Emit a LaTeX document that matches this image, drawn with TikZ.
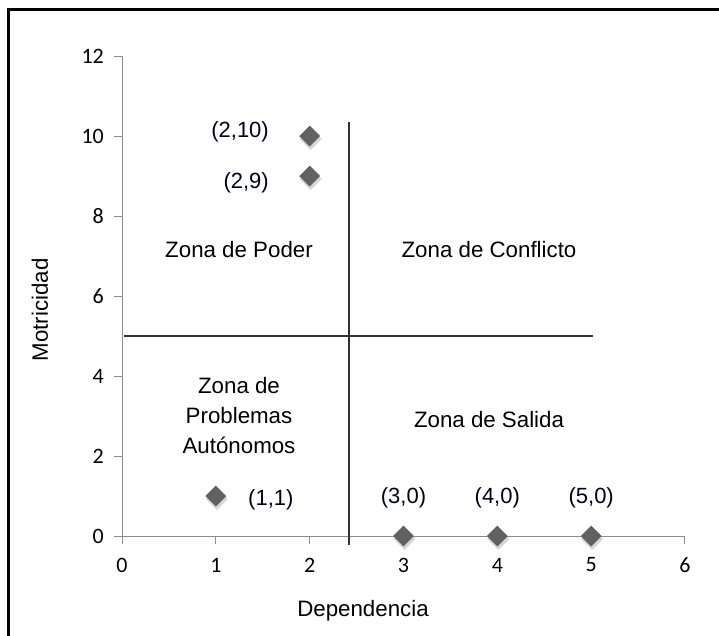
\documentclass[tikz,border=0pt]{standalone}
\usepackage{fontspec}
\setmainfont{Liberation Sans}
\newfontfamily\tickfont{Carlito}
\usetikzlibrary{shapes.geometric}
\begin{document}
\begin{tikzpicture}[x=1pt,y=-1pt,
  lbl/.style={font=\fontsize{22.3}{30}\selectfont, inner sep=0pt, text=black},
  ptlbl/.style={font=\fontsize{22}{25}\selectfont, inner sep=0pt, text=black!90!blue},
  ticklbl/.style={font=\tickfont\fontsize{22}{24}\selectfont, inner sep=0pt, text=black},
  axisline/.style={draw=black!45, line width=1pt},
  quadline/.style={draw=black!80, line width=1.4pt},
  ptmark/.style={diamond, fill=black!62, minimum size=21pt, inner sep=0pt},
  ptshadow/.style={diamond, fill=black!35, opacity=0.45, minimum size=22pt, inner sep=0pt}]
\useasboundingbox (0,0) rectangle (719,635);
\fill[white] (0,0) rectangle (719,635);
% frame
\coordinate (fbl) at (8,636);
\coordinate (ftl) at (8,9);
\coordinate (ftr) at (720,9);
\draw[line width=3pt] (fbl) -- (ftl) -- (ftr);
% axes
\coordinate (o) at (122,536);
\coordinate (xend) at (685,536);
\coordinate (yend) at (122,56);
\draw[axisline] (xend) -- (o) -- (yend);
\foreach \i in {0,...,6} {
  \coordinate (xt\i) at ({122+93.83*\i},536);
  \coordinate (xb\i) at ({122+93.83*\i},544);
  \draw[axisline] (xt\i) -- (xb\i);
  \node[ticklbl] (xl\i) at ({122+93.83*\i},565) {\i};
}
\foreach \k in {0,...,6} {
  \pgfmathtruncatemacro\val{2*\k}
  \coordinate (yr\k) at (122,{536-80*\k});
  \coordinate (yq\k) at (114,{536-80*\k});
  \draw[axisline] (yr\k) -- (yq\k);
  \node[ticklbl, anchor=east] (yl\k) at (104,{536-80*\k}) {\val};
}
% axis titles
\node[lbl] (xtitle) at (363,611) {Dependencia};
\node[lbl, rotate=90] (ytitle) at (40,310) {Motricidad};
% quadrant lines
\coordinate (vtop) at (349,122);
\coordinate (vbot) at (349,545);
\coordinate (hleft) at (124,336);
\coordinate (hright) at (593,336);
\draw[quadline] (vtop) -- (vbot);
\draw[quadline] (hleft) -- (hright);
% zones
\node[lbl] (zpoder) at (239,250) {Zona de Poder};
\node[lbl] (zconf) at (489,250) {Zona de Conflicto};
\node[lbl, align=center] (zauto) at (239,416) {Zona de\\Problemas\\Autónomos};
\node[lbl] (zsal) at (489,420) {Zona de Salida};
% points
\foreach \n/\x/\y in {a/2/10,b/2/9,c/1/1,d/3/0,e/4/0,f/5/0} {
  \node[ptshadow] (s\n) at ({122+93.83*\x+1},{536-40*\y+3}) {};
  \node[ptmark] (p\n) at ({122+93.83*\x},{536-40*\y}) {};
}
\node[ptlbl, anchor=east] (la) at (269,132) {(2,10)};
\node[ptlbl, anchor=east] (lb) at (269,183) {(2,9)};
\node[ptlbl, anchor=west] (lc) at (248,500) {(1,1)};
\node[ptlbl] (ld) at (403.5,498) {(3,0)};
\node[ptlbl] (le) at (497.3,498) {(4,0)};
\node[ptlbl] (lf) at (591.2,498) {(5,0)};
\end{tikzpicture}
\end{document}
